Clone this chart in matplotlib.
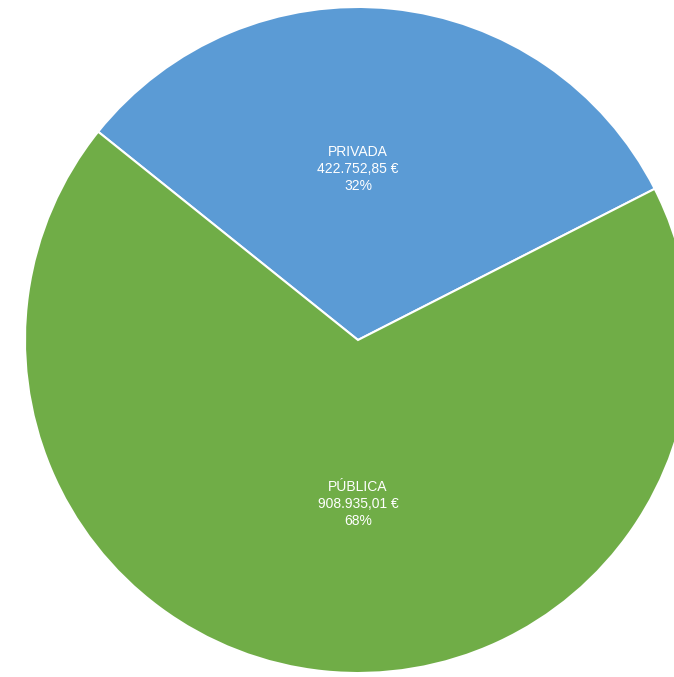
import matplotlib
matplotlib.use('Agg')
import matplotlib.pyplot as plt

labels = ['PRIVADA', 'PÚBLICA']
values = [422752.85, 908935.01]
colors = ['#5B9BD5', '#70AD47']

plt.rcParams['font.family'] = ['Liberation Sans', 'DejaVu Sans']


def euro(v):
	s = '{:,.2f}'.format(v)
	return s.replace(',', 'X').replace('.', ',').replace('X', '.') + ' €'


if __name__ == '__main__':
	total = sum(values)

	fig = plt.figure(figsize=(6.74, 6.77), dpi=100)
	ax = fig.add_axes([0, 0, 1, 1])
	ax.pie(values, colors=colors, startangle=27, counterclock=True,
		radius=1, wedgeprops=dict(edgecolor='white', linewidth=1.5))
	ax.set_aspect('auto')
	ax.set_xlim(-1.075, 0.949)
	ax.set_ylim(-1.012, 1.021)
	ax.axis('off')

	# label positions (data coords)
	pos = [(0.0, 0.513), (0.0, -0.492)]
	for (x, y), lab, v in zip(pos, labels, values):
		txt = '{}\n{}\n{:.0f}%'.format(lab, euro(v), 100 * v / total)
		ax.text(x, y, txt, ha='center', va='center', color='white',
			fontsize=10, linespacing=1.25)

	plt.savefig('out.png', dpi=100)
